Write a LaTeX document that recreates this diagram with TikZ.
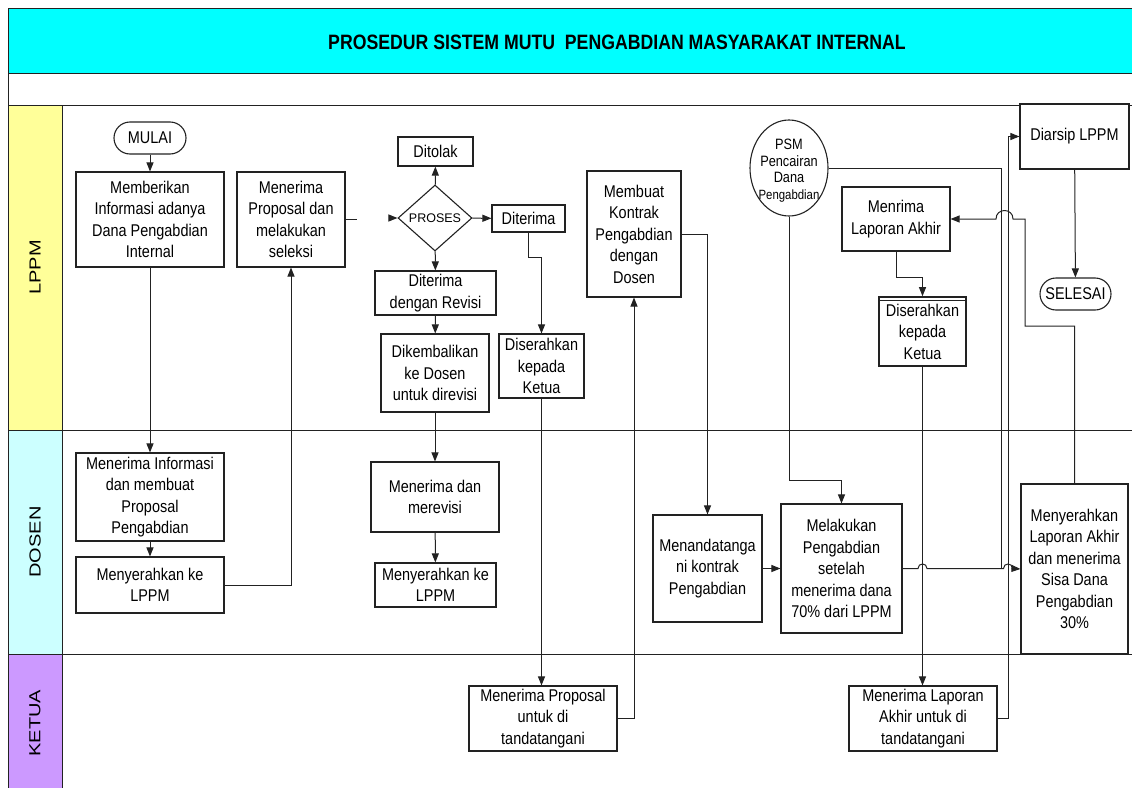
\documentclass[tikz,border=0pt]{standalone}
\usepackage{fontspec}
\setmainfont{Liberation Sans}[FakeStretch=0.85]
\newfontfamily\lanefont{Liberation Sans}[FakeStretch=1.25]
\newfontfamily\plainfont{Liberation Sans}
\usepackage{tikz}
\usetikzlibrary{arrows.meta,positioning,shapes.geometric}

\definecolor{titlecyan}{HTML}{00FFFF}
\definecolor{lppmyellow}{HTML}{FFFF99}
\definecolor{dosencyan}{HTML}{CCFFFF}
\definecolor{ketuaviolet}{HTML}{CC99FF}
\definecolor{linegray}{HTML}{222222}

\tikzset{
  size/.style 2 args={minimum width=#1pt, minimum height=#2pt},
  box/.style={draw=linegray, line width=1.1pt, fill=white, align=center, inner sep=1pt,
    font=\fontsize{17}{21.5}\selectfont},
  term/.style={box, rounded corners=16pt},
  link/.style={draw=linegray, line width=1pt},
  flow/.style={link, -{Triangle[length=9pt,width=7pt]}},
  lane/.style={font=\lanefont\fontsize{16}{16}\selectfont, rotate=90},
}

\begin{document}
\begin{tikzpicture}[x=1pt,y=-1pt]
      \useasboundingbox (0,0) rectangle (1132,787);
      \clip (0,0) rectangle (1132,787);

      \fill[titlecyan] (8,8) rectangle (1140,73);
      \fill[lppmyellow] (8,105) rectangle (62,430);
      \fill[dosencyan] (8,430) rectangle (62,654);
      \fill[ketuaviolet] (8,654) rectangle (62,800);
      \draw[link] (1140,8) -- (8,8) -- (8,800);
      \foreach \y in {73,105,430,654}
        \draw[link] (8,\y) -- (1140,\y);
      \draw[link] (62,105) -- (62,800);

      \node[font=\bfseries\fontsize{20.8}{24}\selectfont] (title) at (617,42)
        {PROSEDUR SISTEM MUTU\ \ PENGABDIAN MASYARAKAT INTERNAL};
      \node[lane] (lppm) at (35,267.5) {LPPM};
      \node[lane] (dosen) at (35,542) {DOSEN};
      \node[lane] (ketua) at (35,723) {KETUA};

      % LPPM
      \node[term, size={72}{32}] (mulai) at (150,138) {MULAI};
      \node[box, size={148}{95}] (beri) at (150,219.5) {Memberikan\\Informasi adanya\\Dana Pengabdian\\Internal};
      \node[box, size={108}{95}] (seleksi) at (291,219.5) {Menerima\\Proposal dan\\melakukan\\seleksi};
      \node[box, size={75}{29}] (tolak) at (435.5,151.5) {Ditolak};
      \node[draw=linegray, line width=1.1pt, fill=white, diamond, size={74}{66}, inner sep=0pt,
        font=\plainfont\fontsize{12.5}{14}\selectfont] (proses) at (435,218) {PROSES};
      \node[box, size={73}{27}] (terima) at (528.5,218.5) {Diterima};
      \node[box, size={121}{44}] (revisi) at (435.5,293) {Diterima\\dengan Revisi};
      \node[box, size={108}{78}] (kembali) at (435,373) {Dikembalikan\\ke Dosen\\untuk direvisi};
      \node[box, size={85}{64}] (serah1) at (541.5,366) {Diserahkan\\kepada\\Ketua};
      \node[box, size={94}{126}] (kontrak) at (634,234) {Membuat\\Kontrak\\Pengabdian\\dengan\\Dosen};
      \node[draw=linegray, line width=1.1pt, fill=white, ellipse, size={78}{96}, inner sep=0pt] (psm) at (789,168) {};
      \node[align=center, font=\fontsize{15}{16.5}\selectfont] (psmtext) at (789,170.5)
        {PSM\\Pencairan\\Dana\\{\fontsize{13.4}{16.5}\selectfont Pengabdian}};
      \node[box, size={108}{64}] (lapakhir) at (896,219) {Menrima\\Laporan Akhir};
      \node[box, line width=1.6pt, size={87}{69}] (serah2) at (922.5,331.5) {Diserahkan\\kepada\\Ketua};
      \draw[link] ([yshift=-4pt]serah2.north west) -- ([yshift=-4pt]serah2.north east);
      \node[box, size={109}{65}] (arsip) at (1074.5,136.5) {Diarsip LPPM};
      \node[term, size={71}{32}] (selesai) at (1075.5,294) {SELESAI};

      % DOSEN
      \node[box, size={148}{88}] (info) at (150,497) {Menerima Informasi\\dan membuat\\Proposal\\Pengabdian};
      \node[box, size={148}{56}] (kirim1) at (150,585) {Menyerahkan ke\\LPPM};
      \node[box, size={128}{70}] (merevisi) at (435,497) {Menerima dan\\merevisi};
      \node[box, size={121}{44}] (kirim2) at (435.5,585) {Menyerahkan ke\\LPPM};
      \node[box, size={109}{107}] (ttdkontrak) at (707.5,568.5) {Menandatanga\\ni kontrak\\Pengabdian};
      \node[box, size={121}{129}] (laksana) at (841.5,568.5) {Melakukan\\Pengabdian\\setelah\\menerima dana\\70\% dari LPPM};
      \node[box, size={107}{170}] (laporan) at (1074.5,569) {Menyerahkan\\Laporan Akhir\\dan menerima\\Sisa Dana\\Pengabdian\\30\%};

      % KETUA
      \node[box, size={148}{65}] (ttdprop) at (543,718.5) {Menerima Proposal\\untuk di\\tandatangani};
      \node[box, size={148}{65}] (ttdlap) at (923,718.5) {Menerima Laporan\\Akhir untuk di\\tandatangani};

      \coordinate (prosesin) at (389,218);

      \draw[flow] (mulai) -- (beri);
      \draw[flow] (beri) -- (info);
      \draw[flow] (info) -- (kirim1);
      \draw[flow] (kirim1.east) -| (seleksi.south);
      \draw[link] (seleksi.east) -- ++(11,0);
      \draw[flow] (prosesin) -- (proses.west);
      \draw[flow] (proses) -- (tolak);
      \draw[flow] (proses) -- (terima);
      \draw[flow] (proses) -- (revisi);
      \draw[flow] (revisi) -- (kembali);
      \draw[flow] (kembali) -- (merevisi);
      \draw[flow] (merevisi) -- (kirim2);
      \draw[flow] (terima.south) -- (528.5,257) -| (serah1.north);
      \draw[flow] (serah1.south) -- (serah1.south |- ttdprop.north);
      \draw[flow] (ttdprop.east) -| (kontrak.south);
      \draw[flow] (kontrak.east) -| (ttdkontrak.north);
      \draw[flow] (ttdkontrak) -- (laksana);
      \draw[flow] (psm.south) -- (789,480) -| (laksana.north);
      \draw[link] (psm.east) -| (1001,568.5);
      \draw[flow] (laksana.east) -- (918,568.5) .. controls (918,562.5) and (927,562.5) .. (927,568.5)
        -- (1003.5,568.5) .. controls (1003.5,562.5) and (1012.5,562.5) .. (1012.5,568.5) -- (laporan.west);
      \draw[flow] (ttdlap.east) -- (1008,718.5) |- (arsip.west);
      \draw[flow] (laporan.north) -- (1074.5,326) -| (1025,219) -- (1013,219)
        .. controls (1013,207.7) and (996,207.7) .. (996,219) -- (lapakhir.east);
      \draw[flow] (lapakhir.south) -- (896,277) -| (serah2.north);
      \draw[flow] (serah2.south) -- (serah2.south |- ttdlap.north);
      \draw[flow] (arsip) -- (selesai);
\end{tikzpicture}
\end{document}
